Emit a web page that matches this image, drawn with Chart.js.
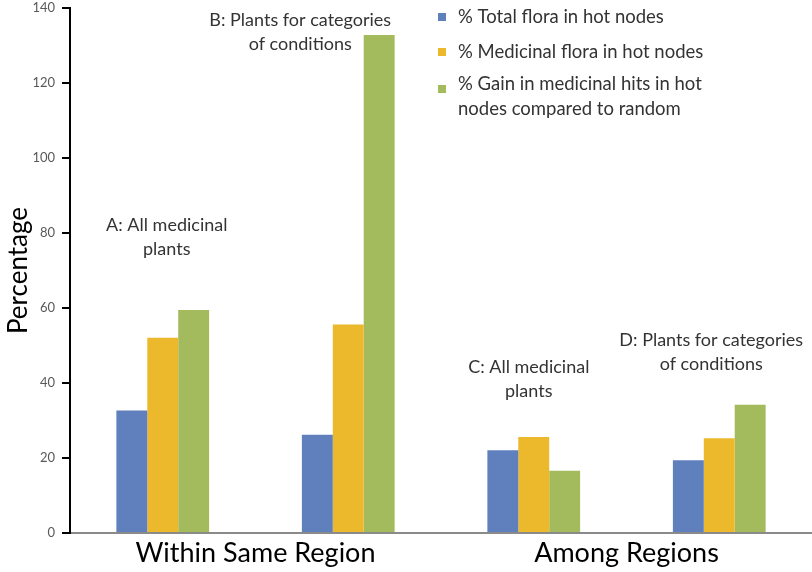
<!DOCTYPE html>
<html>
<head>
<meta charset="utf-8">
<title>Hot nodes chart</title>
<script src="https://cdn.jsdelivr.net/npm/chart.js@4.4.1/dist/chart.umd.min.js"></script>
<style>
  html, body { margin: 0; padding: 0; background: #fff; }
  #wrap { position: relative; width: 812px; height: 572px; }
</style>
</head>
<body>
<div id="wrap"><canvas id="chart" width="812" height="572"></canvas></div>
<script>
// --- data ---
const categories = ['A', 'B', 'C', 'D'];
const groupLabels = ['Within Same Region', 'Among Regions'];
const seriesNames = [
  '% Total flora in hot nodes',
  '% Medicinal flora in hot nodes',
  '% Gain in medicinal hits in hot nodes compared to random'
];
const totalFlora = [32.7, 26.2, 22.1, 19.4];
const medicinalFlora = [52.1, 55.6, 25.6, 25.3];
const gainVsRandom = [59.5, 132.8, 16.6, 34.2];
const yTicks = [0, 20, 40, 60, 80, 100, 120, 140];
const annotationLines = [
  ['A: All medicinal', 'plants'],
  ['B: Plants for categories', 'of conditions'],
  ['C: All medicinal', 'plants'],
  ['D: Plants for categories', 'of conditions']
];
const legendLines = [
  ['% Total flora in hot nodes'],
  ['% Medicinal flora in hot nodes'],
  ['% Gain in medicinal hits in hot', 'nodes compared to random']
];

Chart.defaults.font.family = 'Lato, "Noto Sans", sans-serif';

// draws the group notes and the legend inside the plot
const overlayText = {
  id: 'overlayText',
  afterDatasetsDraw(chart, args, opts) {
    const { ctx, scales: { x, y } } = chart;
    ctx.save();
    ctx.textBaseline = 'middle';

    // notes above each group
    ctx.fillStyle = '#333';
    ctx.font = '18px Lato';
    ctx.textAlign = 'center';
    annotationLines.forEach((lines, i) => {
      const a = opts.anchors[i];
      const cx = x.getPixelForValue(i) + a.dx;
      const cy = y.getPixelForValue(a.y);
      lines.forEach((t, k) => ctx.fillText(t, cx, cy + k * opts.lineGap));
    });

    // legend
    ctx.font = '18.5px Lato';
    ctx.textAlign = 'left';
    legendLines.forEach((lines, i) => {
      const row = opts.legend.rows[i];
      ctx.fillStyle = chart.data.datasets[i].backgroundColor;
      ctx.fillRect(opts.legend.x, row.box - 4, 8, 8);
      ctx.fillStyle = '#333';
      lines.forEach((t, k) => ctx.fillText(t, opts.legend.textX, row.text + k * opts.legend.lineGap));
    });
    ctx.restore();
  }
};

new Chart(document.getElementById('chart'), {
  type: 'bar',
  data: {
    labels: categories,
    datasets: [
      { label: seriesNames[0], data: totalFlora, backgroundColor: '#5f80bd' },
      { label: seriesNames[1], data: medicinalFlora, backgroundColor: '#ecb92c' },
      { label: seriesNames[2], data: gainVsRandom, backgroundColor: '#a4bb5d' }
    ]
  },
  options: {
    responsive: false,
    animation: false,
    maintainAspectRatio: false,
    devicePixelRatio: 1,
    layout: { padding: { top: 8, right: 0, left: 0, bottom: 0 } },
    categoryPercentage: 0.5,
    barPercentage: 1.0,
    plugins: {
      legend: { display: false },
      tooltip: { enabled: false },
      overlayText: {
        lineGap: 24,
        anchors: [
          { dx: 4, y: 82.1 },
          { dx: -48, y: 136.8 },
          { dx: -5, y: 44.3 },
          { dx: -8, y: 51.5 }
        ],
        legend: {
          x: 438,
          textX: 458,
          lineGap: 25,
          rows: [
            { box: 17, text: 17 },
            { box: 52, text: 52 },
            { box: 89, text: 84 }
          ]
        }
      }
    },
    scales: {
      x: {
        position: 'bottom',
        grid: { display: false, drawTicks: false },
        border: { display: true, color: '#8a8a8a', width: 2 },
        ticks: { display: false },
        afterFit(scale) { scale.height = 1; }
      },
      x2: {
        type: 'category',
        position: 'bottom',
        labels: groupLabels,
        offset: true,
        grid: { display: false, drawTicks: false },
        border: { display: false },
        ticks: { color: '#000', font: { size: 27 }, padding: 3, maxRotation: 0, autoSkip: false },
        afterFit(scale) { scale.height = 38; }
      },
      y: {
        min: 0,
        max: 140,
        afterBuildTicks(scale) { scale.ticks = yTicks.map(v => ({ value: v })); },
        grid: { display: true, drawOnChartArea: false, drawTicks: true, tickLength: 8, color: '#000', tickColor: '#000', lineWidth: 2 },
        border: { display: true, color: '#000', width: 2 },
        ticks: { color: '#595959', font: { size: 13 }, padding: 7 },
        title: { display: true, text: 'Percentage', color: '#000', font: { size: 26 }, padding: { top: 3, bottom: 0 } },
        afterFit(scale) {
          scale.width = 70;
          scale.paddingTop = 0;
          scale.paddingBottom = 0;
        }
      }
    }
  },
  plugins: [overlayText]
});
</script>
</body>
</html>
